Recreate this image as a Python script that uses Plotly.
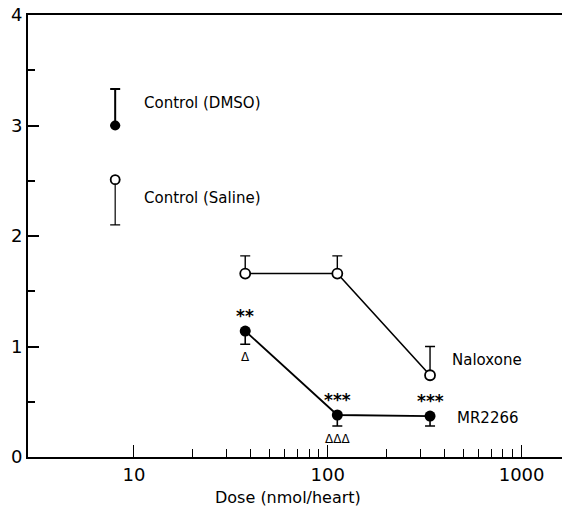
import numpy as np
import plotly.graph_objects as go

# ---- data ----
doses = [37.5, 112, 337]
naloxone_mean = [1.66, 1.66, 0.74]
naloxone_err_up = [0.16, 0.16, 0.26]
mr2266_mean = [1.14, 0.38, 0.37]
mr2266_err_down = [0.12, 0.10, 0.09]
mr2266_stars = ["**", "***", "***"]
mr2266_deltas = ["Δ", "ΔΔΔ", ""]

control_dose = [8.0]
dmso_mean = [3.0]
dmso_err_up = [0.33]
saline_mean = [2.51]
saline_err_down = [0.41]

x_major = [10, 100, 1000]
x_major_text = ["10", "100", "1000"]
x_minor = [20, 30, 40, 50, 60, 70, 80, 90, 200, 300, 400, 500, 600, 700, 800, 900]
y_major = [0, 1, 2, 3, 4]
y_minor = [0.5, 1.5, 2.5, 3.5]

FONT = "DejaVu Sans"

fig = go.Figure()

# Control (DMSO): filled, error up
fig.add_trace(go.Scatter(
    x=control_dose, y=dmso_mean, mode="markers",
    marker=dict(symbol="circle", size=10, color="black"),
    error_y=dict(type="data", symmetric=False, array=dmso_err_up, arrayminus=[0],
                 color="black", thickness=2, width=5),
    showlegend=False))

# Control (Saline): open, error down
fig.add_trace(go.Scatter(
    x=control_dose, y=saline_mean, mode="markers",
    marker=dict(symbol="circle", size=9, color="white", line=dict(color="black", width=1.8)),
    error_y=dict(type="data", symmetric=False, array=[0], arrayminus=saline_err_down,
                 color="black", thickness=1.2, width=5),
    showlegend=False))

# Naloxone
fig.add_trace(go.Scatter(
    x=doses, y=naloxone_mean, mode="lines+markers",
    line=dict(color="black", width=1.6),
    marker=dict(symbol="circle", size=10, color="white", line=dict(color="black", width=1.8)),
    error_y=dict(type="data", symmetric=False, array=naloxone_err_up, arrayminus=[0, 0, 0],
                 color="black", thickness=1.4, width=5),
    showlegend=False))

# MR2266
fig.add_trace(go.Scatter(
    x=doses, y=mr2266_mean, mode="lines+markers",
    line=dict(color="black", width=1.8),
    marker=dict(symbol="circle", size=11, color="black"),
    error_y=dict(type="data", symmetric=False, array=[0, 0, 0], arrayminus=mr2266_err_down,
                 color="black", thickness=1.6, width=5),
    showlegend=False))

annotations = []
for d, m, s in zip(doses, mr2266_mean, mr2266_stars):
    annotations.append(dict(x=np.log10(d), y=m, xref="x", yref="y", text="<b>" + s + "</b>",
                            showarrow=False, yshift=15, font=dict(family=FONT, size=17, color="black")))
for d, m, e, t in zip(doses, mr2266_mean, mr2266_err_down, mr2266_deltas):
    if t:
        annotations.append(dict(x=np.log10(d), y=m - e, xref="x", yref="y", text=t,
                                showarrow=False, yshift=-13, font=dict(family=FONT, size=12, color="black")))

labels = [
    ("Control (DMSO)", 11.0, 3.2),
    ("Control (Saline)", 11.0, 2.34),
    ("Naloxone", 425, 0.88),
    ("MR2266", 455, 0.35),
]
for t, x, y in labels:
    annotations.append(dict(x=np.log10(x), y=y, xref="x", yref="y", text=t, showarrow=False,
                            xanchor="left", yanchor="middle",
                            font=dict(family=FONT, size=15, color="black")))

annotations.append(dict(x=(288 - 28) / 534, y=-0.092, xref="paper", yref="paper",
                        text="Dose (nmol/heart)", showarrow=False, xanchor="center", yanchor="middle",
                        font=dict(family=FONT, size=16, color="black")))

fig.update_layout(
    width=562, height=511,
    margin=dict(l=28, r=0, t=15, b=54),
    paper_bgcolor="white", plot_bgcolor="white",
    annotations=annotations,
    font=dict(family=FONT, color="black"),
)

fig.update_xaxes(
    type="log", range=[np.log10(2.84), np.log10(1616)], automargin=False,
    showgrid=False, zeroline=False,
    showline=True, linecolor="black", linewidth=2, mirror=True,
    tickmode="array", tickvals=x_major, ticktext=x_major_text,
    ticks="inside", ticklen=12, tickwidth=1.2, tickcolor="black",
    tickfont=dict(family=FONT, size=18, color="black"),
    minor=dict(tickmode="array", tickvals=x_minor, ticks="inside", ticklen=8,
               tickwidth=1.2, tickcolor="black", showgrid=False),
)
fig.update_yaxes(
    range=[0, 4], automargin=False, showgrid=False, zeroline=False,
    showline=True, linecolor="black", linewidth=2, mirror=False,
    tickmode="array", tickvals=y_major,
    ticks="inside", ticklen=11, tickwidth=1.5, tickcolor="black",
    tickfont=dict(family=FONT, size=18, color="black"),
    minor=dict(tickmode="array", tickvals=y_minor, ticks="inside", ticklen=7,
               tickwidth=1.5, tickcolor="black", showgrid=False),
)

fig.write_html("out.html",
               config={"displayModeBar": False},
               post_script="document.body.style.margin='0';document.body.style.padding='0';"
                           "document.body.style.overflow='hidden';"
                           "document.documentElement.style.overflow='hidden';")
